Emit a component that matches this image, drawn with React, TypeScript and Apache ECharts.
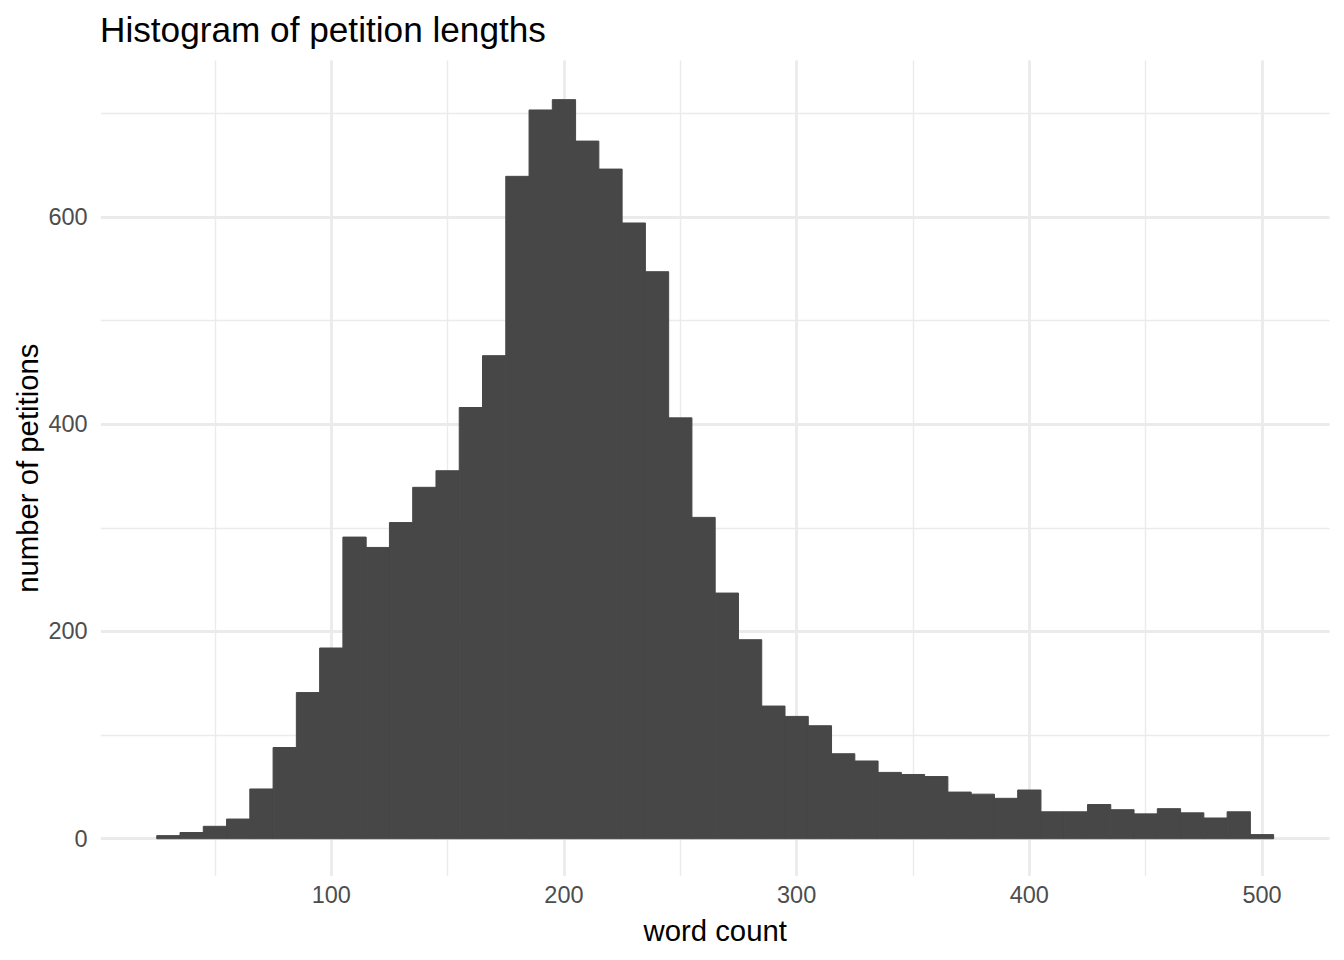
import React, { useEffect, useRef } from "react";
import * as echarts from "echarts";

// ---- data ----
const chartTitle = "Histogram of petition lengths";
const xTitle = "word count";
const yTitle = "number of petitions";
const binStart = 25; // lower edge of first bin
const binWidth = 10;
const counts = [
  3, 6, 12, 19, 48, 88, 141, 184, 291, 281, 305, 339, 355, 416, 466, 639,
  703, 713, 673, 646, 594, 547, 406, 310, 237, 192, 128, 118, 109, 82, 75, 64,
  62, 60, 45, 43, 39, 47, 26, 26, 33, 28, 24, 29, 25, 20, 26, 4,
];
const xRange = [1, 529];
const yRange = [-35.75, 750.75];

const FONT = "'Liberation Sans', Arial, Helvetica, sans-serif";
const BAR = "#474747";
const GRID = "#ebebeb";
const T = "rgba(0,0,0,0)";

export default function App() {
  const ref = useRef<HTMLDivElement>(null);
  useEffect(() => {
    const chart = echarts.init(ref.current!, null, { renderer: "svg" });
    const data = counts.map((c, i) => [
      binStart + i * binWidth,
      binStart + (i + 1) * binWidth,
      c,
    ]);
    const rep = (n: number) => Array(n).fill(GRID);
    chart.setOption({
      animation: false,
      backgroundColor: "#ffffff",
      title: {
        text: chartTitle,
        left: 100,
        top: 12,
        padding: 0,
        textStyle: {
          fontFamily: FONT,
          fontSize: 35.2,
          lineHeight: 35.2,
          fontWeight: "normal",
          color: "#000000",
        },
      },
      grid: { left: 100.9, right: 14.5, top: 60.5, bottom: 84.2, containLabel: false },
      xAxis: [
        {
          type: "value",
          min: xRange[0],
          max: xRange[1],
          splitNumber: 5,
          axisLine: { show: false },
          axisTick: { show: false },
          axisLabel: {
            show: true,
            showMinLabel: false,
            showMaxLabel: false,
            margin: 7,
            fontFamily: FONT,
            fontSize: 23.5,
            lineHeight: 23.5,
            color: "#4d4d4d",
          },
          splitLine: { show: true, lineStyle: { color: [T, ...rep(5), T], width: 2.8 } },
          name: xTitle,
          nameLocation: "middle",
          nameGap: 40,
          nameMoveOverlap: false,
          nameTextStyle: { fontFamily: FONT, fontSize: 29.3, lineHeight: 29.3, color: "#000000" },
        },
        {
          type: "value",
          min: xRange[0],
          max: xRange[1],
          splitNumber: 10,
          axisLine: { show: false },
          axisTick: { show: false },
          axisLabel: { show: false },
          splitLine: { show: true, lineStyle: { color: [T, ...rep(10), T], width: 1.4 } },
        },
      ],
      yAxis: [
        {
          type: "value",
          min: yRange[0],
          max: yRange[1],
          splitNumber: 4,
          axisLine: { show: false },
          axisTick: { show: false },
          axisLabel: {
            show: true,
            showMinLabel: false,
            showMaxLabel: false,
            margin: 13.3,
            fontFamily: FONT,
            fontSize: 23.5,
            lineHeight: 23.5,
            color: "#4d4d4d",
          },
          splitLine: { show: true, lineStyle: { color: [T, ...rep(4), T], width: 2.8 } },
          name: yTitle,
          nameLocation: "middle",
          nameGap: 59,
          nameMoveOverlap: false,
          nameRotate: 90,
          nameTextStyle: { fontFamily: FONT, fontSize: 29.3, lineHeight: 29.3, color: "#000000" },
        },
        {
          type: "value",
          min: yRange[0],
          max: yRange[1],
          splitNumber: 8,
          axisLine: { show: false },
          axisTick: { show: false },
          axisLabel: { show: false },
          splitLine: { show: true, lineStyle: { color: [T, ...rep(8), T], width: 1.4 } },
        },
      ],
      series: [
        {
          type: "custom",
          xAxisIndex: 0,
          yAxisIndex: 0,
          encode: { x: [0, 1], y: 2 },
          data,
          renderItem: (_params: any, api: any) => {
            const p0 = api.coord([api.value(0), api.value(2)]);
            const p1 = api.coord([api.value(1), 0]);
            return {
              type: "rect",
              shape: { x: p0[0], y: p0[1], width: p1[0] - p0[0], height: p1[1] - p0[1] },
              style: { fill: BAR, stroke: BAR, lineWidth: 1 },
            };
          },
        },
      ],
    });
    return () => chart.dispose();
  }, []);
  return (
    <div
      ref={ref}
      style={{ position: "absolute", left: 0, top: 0, width: 1344, height: 960 }}
    />
  );
}
